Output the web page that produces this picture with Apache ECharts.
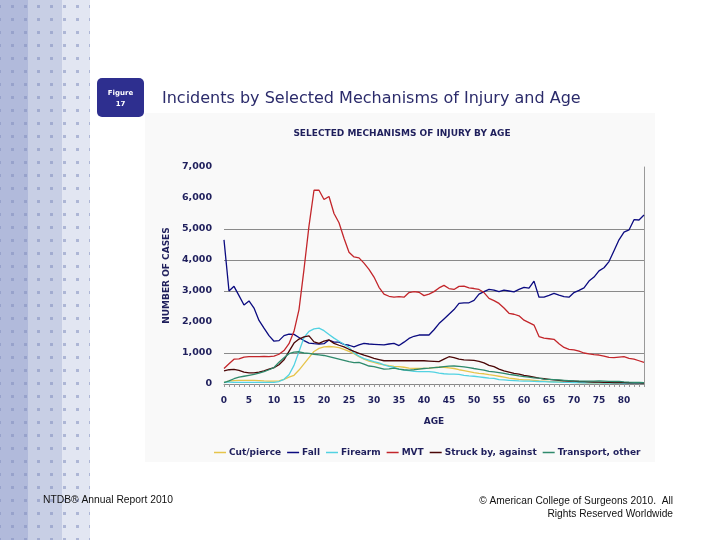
<!DOCTYPE html>
<html>
<head>
<meta charset="utf-8">
<script src="https://cdn.jsdelivr.net/npm/echarts@6/dist/echarts.min.js"></script>
<style>
html,body{margin:0;padding:0;background:#fff;}
#strip{position:absolute;left:0;top:0;width:90px;height:540px;
background:
radial-gradient(circle at 6.5px 6.5px, rgba(130,142,190,0.55) 1.4px, transparent 1.9px) 6px 0/13px 13px,
linear-gradient(to right,#b1badb 0,#b1badb 28px,#c8cfe5 28px,#c8cfe5 62px,#e2e6f2 62px,#e2e6f2 90px);}
#chart{position:absolute;left:0;top:0;width:720px;height:540px;}
</style>
</head>
<body>
<div id="strip"></div>
<div id="chart"></div>
<script>
const ages = Array.from({length: 85}, (_, i) => String(i));
const seriesNames = ['Cut/pierce', 'Fall', 'Firearm', 'MVT', 'Struck by, against', 'Transport, other'];
const yTicks = [0, 1000, 2000, 3000, 4000, 5000, 6000, 7000];

const cutPierce = [60,90,110,120,120,120,120,110,100,95,90,100,150,220,280,450,650,850,1050,1150,1200,1210,1200,1170,1120,1050,980,880,800,740,700,650,620,590,570,560,540,510,505,500,505,510,530,540,540,520,500,460,430,400,370,345,330,300,280,250,220,190,170,150,135,130,120,100,90,80,75,70,60,55,50,45,42,40,38,35,33,32,30,28,28,26,25,25,24];
const fall = [4650,3000,3150,2850,2550,2680,2450,2050,1800,1560,1380,1400,1560,1610,1600,1500,1400,1320,1300,1290,1300,1420,1350,1350,1280,1250,1200,1260,1310,1290,1280,1270,1260,1290,1310,1240,1350,1470,1540,1580,1580,1580,1750,1950,2100,2250,2400,2600,2620,2620,2700,2900,2980,3050,3030,2980,3030,3000,2970,3050,3120,3090,3320,2800,2800,2860,2925,2870,2820,2800,2950,3020,3100,3320,3450,3650,3750,3950,4300,4650,4900,4970,5300,5290,5450];
const firearm = [60,60,55,55,50,50,50,50,50,50,50,80,150,300,600,1050,1500,1700,1780,1800,1720,1600,1480,1380,1280,1180,1000,900,820,770,720,680,620,570,540,480,450,430,410,400,400,400,380,350,330,320,320,310,280,260,250,230,210,190,180,140,130,120,110,100,95,90,85,80,75,70,65,60,55,50,45,42,40,38,36,34,32,30,28,26,25,24,22,20,20];
const mvt = [500,650,800,810,870,880,880,880,890,880,900,960,1080,1300,1700,2400,3700,5100,6250,6250,5950,6050,5500,5200,4700,4250,4100,4070,3900,3700,3450,3120,2900,2830,2800,2820,2800,2950,2980,2960,2850,2900,2980,3100,3180,3080,3050,3150,3160,3100,3080,3050,2950,2760,2690,2600,2450,2280,2250,2200,2060,1980,1900,1530,1480,1460,1440,1300,1180,1120,1100,1060,1000,970,950,935,900,860,850,870,880,830,800,750,700];
const struckBy = [420,460,470,440,380,360,360,380,420,480,530,620,780,1050,1320,1450,1520,1550,1360,1310,1380,1420,1310,1250,1200,1120,1050,990,930,880,830,790,750,750,750,750,750,750,750,750,750,740,730,720,800,880,850,800,780,770,760,730,680,600,560,480,420,380,340,320,280,250,220,190,170,150,130,120,105,95,90,80,75,70,65,60,55,50,48,45,42,40,38,35,32];
const transport = [40,100,170,220,250,280,310,350,400,460,530,700,850,980,1030,1040,1000,990,960,940,920,880,840,800,760,720,690,700,640,580,560,520,480,490,510,480,460,450,460,480,500,510,530,540,560,575,580,570,550,530,500,475,450,410,390,370,340,310,290,260,240,220,200,190,160,150,140,130,120,110,100,95,90,90,95,100,95,85,80,85,70,60,55,50,45];

const seriesData = [cutPierce, fall, firearm, mvt, struckBy, transport];
const colors = ['#e6c44a', '#0b0b80', '#52d2e2', '#c3262b', '#4a0606', '#2f8a6c'];

const navy = '#1f1f5c';
const chart = echarts.init(document.getElementById('chart'), null, {renderer: 'canvas'});
chart.setOption({
  backgroundColor: 'transparent',
  animation: false,
  color: colors,
  title: {
    text: 'SELECTED MECHANISMS OF INJURY BY AGE',
    left: 397, top: 124, textAlign: 'center',
    textStyle: {fontFamily: 'DejaVu Sans', fontSize: 9, fontWeight: 'bold', color: navy}
  },
  graphic: [
    {type: 'rect', z: -10, shape: {x: 145, y: 113, width: 510, height: 349}, style: {fill: '#f9f9f9'}},
    {type: 'rect', shape: {x: 97, y: 78, width: 47, height: 39, r: 5}, style: {fill: '#2e2f8f'}},
    {type: 'text', style: {x: 120.5, y: 93, text: 'Figure', fill: '#fff', font: 'bold 7px DejaVu Sans', align: 'center', verticalAlign: 'middle'}},
    {type: 'text', style: {x: 120.5, y: 104, text: '17', fill: '#fff', font: 'bold 7px DejaVu Sans', align: 'center', verticalAlign: 'middle'}},
    {type: 'text', style: {x: 162, y: 99, text: 'Incidents by Selected Mechanisms of Injury and Age', fill: '#2b2b6b', font: '16px DejaVu Sans', verticalAlign: 'middle'}},
    {type: 'text', style: {x: 43, y: 500, text: 'NTDB® Annual Report 2010', fill: '#111', font: '10.3px Liberation Sans', verticalAlign: 'middle'}},
    {type: 'text', style: {x: 673, y: 501, text: '© American College of Surgeons 2010.  All', fill: '#111', font: '10.2px Liberation Sans', align: 'right', verticalAlign: 'middle'}},
    {type: 'text', style: {x: 673, y: 514, text: 'Rights Reserved Worldwide', fill: '#111', font: '10.2px Liberation Sans', align: 'right', verticalAlign: 'middle'}}
  ],
  legend: {
    data: seriesNames,
    left: 209, top: 443,
    icon: 'rect', itemWidth: 12, itemHeight: 1.5, itemGap: 6,
    textStyle: {fontFamily: 'DejaVu Sans', fontSize: 9, fontWeight: 'bold', color: navy, padding: [0, 0, 0, -2]}
  },
  grid: {left: 224, right: 76, top: 167, bottom: 156, containLabel: false},
  xAxis: {
    type: 'category', data: ages, boundaryGap: false,
    name: 'AGE', nameLocation: 'middle', nameGap: 33,
    nameTextStyle: {fontFamily: 'DejaVu Sans', fontSize: 9, fontWeight: 'bold', color: navy},
    axisLine: {lineStyle: {color: '#888', width: 1}},
    axisTick: {show: true, interval: 0, length: 3, lineStyle: {color: '#999'}},
    axisLabel: {interval: (i) => i % 5 === 0, fontFamily: 'DejaVu Sans', fontSize: 9, fontWeight: 'bold', color: navy, margin: 12},
    splitLine: {show: false}
  },
  yAxis: [{
    type: 'value', min: yTicks[0], max: yTicks[yTicks.length - 1], interval: 1000,
    name: 'NUMBER OF CASES', nameLocation: 'middle', nameGap: 51, nameRotate: 90,
    nameTextStyle: {fontFamily: 'DejaVu Sans', fontSize: 9, fontWeight: 'bold', color: navy},
    axisLine: {show: false}, axisTick: {show: false},
    axisLabel: {fontFamily: 'DejaVu Sans', fontSize: 9.5, fontWeight: 'bold', color: navy, margin: 12,
      formatter: (v) => v.toLocaleString('en-US')},
    splitLine: {show: true, lineStyle: {color: ['transparent', '#8a8a8a', 'transparent', '#8a8a8a', '#8a8a8a', '#8a8a8a', 'transparent', 'transparent'], width: 1}}
  }, {
    type: 'value', position: 'right', min: yTicks[0], max: yTicks[yTicks.length - 1], interval: 1000,
    axisLine: {show: true, lineStyle: {color: '#999'}}, axisTick: {show: false}, axisLabel: {show: false}, splitLine: {show: false}
  }],
  series: seriesNames.map((n, i) => ({
    name: n, type: 'line', data: seriesData[i], showSymbol: false, symbol: 'none',
    lineStyle: {width: 1.3, color: colors[i]}, itemStyle: {color: colors[i]}
  }))
});
</script>
</body>
</html>
